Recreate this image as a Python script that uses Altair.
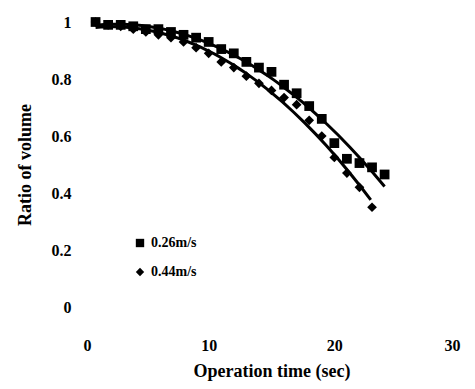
import altair as alt
import pandas as pd

t_sq = list(range(1, 25))
v_sq = [1.0, 0.99, 0.99, 0.985, 0.975, 0.975, 0.965, 0.955, 0.945, 0.93, 0.905, 0.89,
        0.86, 0.84, 0.825, 0.78, 0.75, 0.705, 0.66, 0.575, 0.52, 0.505, 0.49, 0.465]
t_di = list(range(1, 24))
v_di = [1.0, 0.99, 0.985, 0.975, 0.965, 0.955, 0.945, 0.93, 0.91, 0.89, 0.86, 0.84,
        0.81, 0.785, 0.76, 0.735, 0.71, 0.655, 0.60, 0.525, 0.47, 0.42, 0.35]
series = ["0.26m/s", "0.44m/s"]

df_sq = pd.DataFrame({"t": t_sq, "v": v_sq, "series": series[0]})
df_di = pd.DataFrame({"t": t_di, "v": v_di, "series": series[1]})
df = pd.concat([df_sq, df_di], ignore_index=True)

FONT = "Liberation Serif"

x = alt.X("t:Q", scale=alt.Scale(domain=[0, 30], nice=False),
          axis=alt.Axis(values=[0, 10, 20, 30], title="Operation time (sec)", format="~g",
                        grid=False, domain=False, ticks=False,
                        labelPadding=30, titlePadding=9))
y = alt.Y("v:Q", scale=alt.Scale(domain=[0, 1], nice=False),
          axis=alt.Axis(values=[0, 0.2, 0.4, 0.6, 0.8, 1], title="Ratio of volume", format="~g",
                        grid=False, domain=False, ticks=False,
                        labelPadding=12, titlePadding=17))

points = alt.Chart(df).mark_point(filled=True, color="black", opacity=1).encode(
    x=x, y=y,
    shape=alt.Shape("series:N",
                    scale=alt.Scale(domain=series, range=["square", "diamond"]),
                    legend=alt.Legend(title=None, orient="none", legendX=50, legendY=214,
                                      labelFont=FONT, labelFontSize=14, labelFontWeight="bold",
                                      labelColor="black", symbolFillColor="black",
                                      symbolStrokeColor="black", symbolSize=70,
                                      rowPadding=13)),
    size=alt.value(95),
)

line_sq = alt.Chart(df_sq).transform_regression(
    "t", "v", method="poly", order=2, extent=[1, 24]
).mark_line(color="black", strokeWidth=3).encode(x="t:Q", y="v:Q")

line_di = alt.Chart(df_di).transform_regression(
    "t", "v", method="poly", order=2, extent=[1, 22.9]
).mark_line(color="black", strokeWidth=3).encode(x="t:Q", y="v:Q")

chart = alt.layer(line_sq, line_di, points).properties(
    width=377, height=285,
    autosize=alt.AutoSizeParams(type="none"),
    padding={"left": 75, "top": 14, "right": 7, "bottom": 74},
).configure_view(stroke=None).configure_axis(
    labelFont=FONT, labelFontSize=16, labelFontWeight="bold", labelColor="black",
    titleFont=FONT, titleFontSize=18, titleFontWeight="bold", titleColor="black",
)

chart.save("out.html", embed_options={"renderer": "svg", "actions": False})
